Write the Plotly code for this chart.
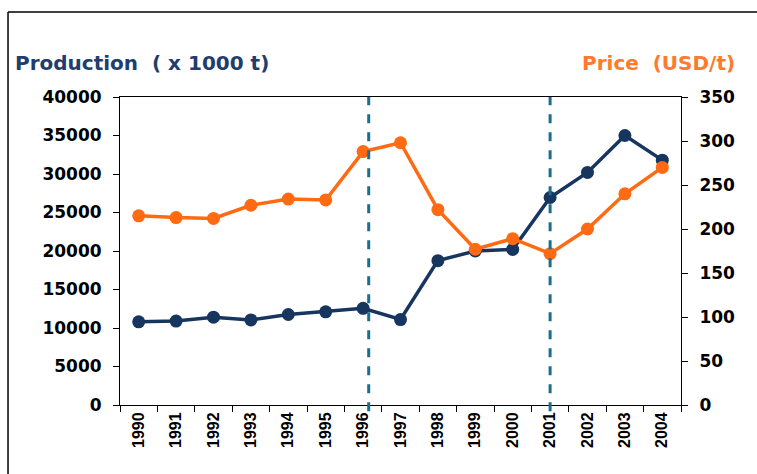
import plotly.graph_objects as go

years = ["1990", "1991", "1992", "1993", "1994", "1995", "1996", "1997",
         "1998", "1999", "2000", "2001", "2002", "2003", "2004"]
production = [10800, 10900, 11400, 11050, 11750, 12100, 12550, 11100,
              18750, 20000, 20200, 26950, 30200, 35000, 31800]
price = [215, 213, 212, 227, 234, 233, 288, 298,
         222, 177, 189, 172, 200, 240, 270]
left_ticks = [0, 5000, 10000, 15000, 20000, 25000, 30000, 35000, 40000]
right_ticks = [0, 50, 100, 150, 200, 250, 300, 350]
marker_years = [6.15, 11]  # category positions of the dashed markers

NAVY = "#16355f"
ORANGE = "#ff6a13"
TEAL = "#1a6f8c"
FONT = "DejaVu Sans"

fig = go.Figure()
fig.add_trace(go.Scatter(
    x=years, y=production, mode="lines+markers", name="Production",
    line=dict(color=NAVY, width=3.5), marker=dict(color=NAVY, size=13),
    yaxis="y"))
fig.add_trace(go.Scatter(
    x=years, y=price, mode="lines+markers", name="Price",
    line=dict(color=ORANGE, width=3.5), marker=dict(color=ORANGE, size=13),
    yaxis="y2"))

for xv in marker_years:
    fig.add_shape(type="line", xref="x", yref="paper", x0=xv, x1=xv, y0=-0.02, y1=1,
                  line=dict(color=TEAL, width=3, dash="dash"))

# outer frame (top and left edges; the rest runs off the picture)
fig.add_shape(type="line", xref="paper", yref="paper", x0=-0.1996, x1=2, y0=1.276, y1=1.276,
              line=dict(color="black", width=1.5), layer="below")
fig.add_shape(type="line", xref="paper", yref="paper", x0=-0.1996, x1=-0.1996, y0=-1, y1=1.276,
              line=dict(color="black", width=1.5), layer="below")

fig.add_annotation(text="Production  ( x 1000 t)", xref="paper", yref="paper",
                   x=-0.19, y=1.11, xanchor="left", yanchor="middle", showarrow=False,
                   font=dict(family=FONT, size=20, color="#1f3d6e", weight="bold"))
fig.add_annotation(text="Price  (USD/t)", xref="paper", yref="paper",
                   x=1.1, y=1.11, xanchor="right", yanchor="middle", showarrow=False,
                   font=dict(family=FONT, size=20, color="#ff7a2a", weight="bold"))

fig.update_layout(
    width=757, height=474,
    margin=dict(l=120, r=76, t=97, b=69),
    paper_bgcolor="white", plot_bgcolor="white",
    showlegend=False,
    font=dict(family=FONT, color="black"),
    xaxis=dict(type="category", tickson="boundaries", ticks="outside", ticklen=6,
               tickcolor="black", showline=True, linecolor="black", linewidth=1,
               mirror=True, showgrid=False, tickangle=-90,
               tickfont=dict(family="Liberation Sans", size=16, weight="bold"),
               range=[-0.5, 14.5]),
    yaxis=dict(range=[0, 40000], tickvals=left_ticks,
               ticktext=[str(v) for v in left_ticks], ticks="outside", ticklen=6,
               tickcolor="black", showline=True, linecolor="black", showgrid=False,
               zeroline=False, ticklabelstandoff=8,
               tickfont=dict(family=FONT, size=17, weight="bold")),
    yaxis2=dict(range=[0, 350], tickvals=right_ticks,
                ticktext=[str(v) for v in right_ticks], overlaying="y", side="right",
                ticks="outside", ticklen=6, tickcolor="black", showline=True,
                linecolor="black", showgrid=False, zeroline=False, ticklabelstandoff=8,
                tickfont=dict(family=FONT, size=17, weight="bold")),
)

fig.write_html("out.html", config={"displayModeBar": False},
               post_script="document.body.style.margin='0';")
